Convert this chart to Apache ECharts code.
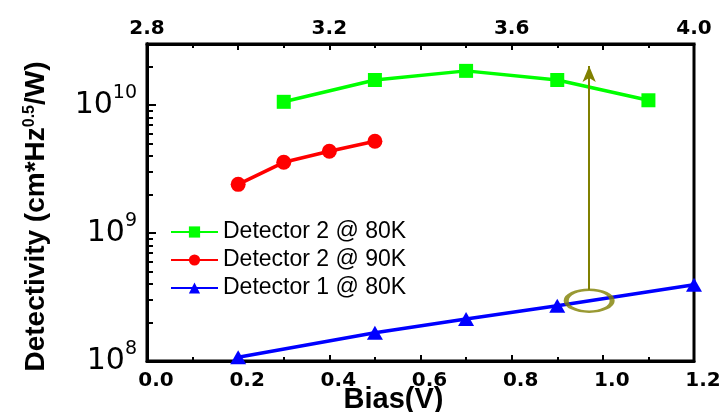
<!DOCTYPE html>
<html>
<head>
<meta charset="utf-8">
<script src="https://cdn.jsdelivr.net/npm/echarts@6/dist/echarts.min.js"></script>
<style>
html, body { margin: 0; padding: 0; background: #fff; }
#chart { width: 724px; height: 412px; }
</style>
</head>
<body>
<div id="chart"></div>
<script>
// 数据
var bias2At80 = [0.3, 0.5, 0.7, 0.9, 1.1];
var det2At80 = [1.06e10, 1.57e10, 1.85e10, 1.57e10, 1.09e10];
var bias2At90 = [0.2, 0.3, 0.4, 0.5];
var det2At90 = [2.4e9, 3.57e9, 4.36e9, 5.22e9];
var bias1At80 = [0.2, 0.5, 0.7, 0.9, 1.2];
var det1At80 = [1.07e8, 1.66e8, 2.13e8, 2.7e8, 3.95e8];
var seriesNames = ['Detector 2 @ 80K', 'Detector 2 @ 90K', 'Detector 1 @ 80K'];
// 箭头和圈 (标注)
var markBias = 0.97;
var ringDet = 2.96e8;
var arrowFrom = 3.6e8;
var arrowTo = 2.02e10;
// 坐标轴
var yMin = 1e8, yMax = 3e10;
var yMajorTicks = [1e8, 1e9, 1e10];
var yMinorTicks = [2e8, 3e8, 4e8, 5e8, 6e8, 7e8, 8e8, 9e8,
	2e9, 3e9, 4e9, 5e9, 6e9, 7e9, 8e9, 9e9, 2e10, 3e10];

function pairs(xs, ys) {
	var out = [];
	for (var i = 0; i < xs.length; i++) out.push([xs[i], ys[i]]);
	return out;
}

var tickFont = { color: '#000', fontFamily: 'DejaVu Sans', fontWeight: 'bold', fontSize: 20 };

var chart = echarts.init(document.getElementById('chart'));
chart.setOption({
	animation: false,
	grid: { left: 147, right: 30, top: 44, bottom: 51, outerBoundsMode: 'none', containLabel: false,
		show: true, borderColor: '#000', borderWidth: 3 },
	legend: {
		data: seriesNames,
		orient: 'vertical',
		left: 165,
		top: 215,
		itemWidth: 47,
		itemHeight: 14,
		itemGap: 4,
		textStyle: { color: '#000', fontFamily: 'Liberation Sans', fontSize: 23, lineHeight: 24 }
	},
	xAxis: [{
		type: 'value', min: 0, max: 1.2, interval: 0.2, position: 'bottom',
		name: 'Bias(V)', nameLocation: 'middle', nameGap: 24, nameMoveOverlap: false,
		nameTextStyle: { color: '#000', fontFamily: 'Liberation Sans', fontWeight: 'bold', fontSize: 29, padding: [0, 54, 0, 0] },
		axisLine: { lineStyle: { color: '#000', width: 3 } },
		axisTick: { inside: true, length: 6, lineStyle: { color: '#000', width: 2 } },
		minorTick: { show: true, splitNumber: 2, length: 4, lineStyle: { color: '#000', width: 2 } },
		splitLine: { show: false },
		axisLabel: Object.assign({ margin: 10, padding: [0, 0, 0, 18], formatter: function (v) { return v.toFixed(1); } }, tickFont)
	}, {
		type: 'value', min: 2.8, max: 4.0, interval: 0.2, position: 'top',
		axisLine: { lineStyle: { color: '#000', width: 3 } },
		axisTick: { inside: true, length: 6, lineStyle: { color: '#000', width: 2 } },
		minorTick: { show: true, splitNumber: 2, length: 4, lineStyle: { color: '#000', width: 2 } },
		splitLine: { show: false },
		axisLabel: Object.assign({
			margin: 5,
			formatter: function (v) { return Math.round(v * 10) % 4 === 0 ? v.toFixed(1) : ''; }
		}, tickFont)
	}],
	yAxis: [{
		type: 'log', min: yMin, max: yMax, logBase: 10, position: 'left',
		name: '{n|Detectivity (cm*Hz}{s|0.5}{n|/W)}', nameLocation: 'middle', nameGap: 97, nameMoveOverlap: false,
		nameTextStyle: {
			padding: [0, 28, 0, 0],
			rich: {
				n: { color: '#000', fontFamily: 'Liberation Sans', fontWeight: 'bold', fontSize: 28 },
				s: { color: '#000', fontFamily: 'Liberation Sans', fontWeight: 'bold', fontSize: 16, verticalAlign: 'top', padding: [0, 0, 12, 0] }
			}
		},
		axisLine: { lineStyle: { color: '#000', width: 3 } },
		axisTick: { show: false },
		splitLine: { show: false },
		axisLabel: {
			margin: 10,
			padding: [0, 0, 6, 0],
			formatter: function (v) {
				var e = Math.log10(v);
				if (Math.abs(e - Math.round(e)) > 1e-6) return '';
				return '{a|10}{b|' + Math.round(e) + '}';
			},
			rich: {
				a: { color: '#000', fontFamily: 'DejaVu Sans', fontSize: 30, verticalAlign: 'bottom', padding: [6, 0, 0, 0] },
				b: { color: '#000', fontFamily: 'DejaVu Sans', fontSize: 19, verticalAlign: 'top' }
			}
		}
	}, {
		// 主刻度 (按 log10 值画在线性轴上)
		type: 'value', min: Math.log10(yMin), max: Math.log10(yMax), position: 'left',
		axisLine: { show: true, lineStyle: { color: '#000', width: 3 } },
		axisTick: { show: true, inside: true, length: 9, customValues: yMajorTicks.map(Math.log10), lineStyle: { color: '#000', width: 2 } },
		axisLabel: { show: false },
		splitLine: { show: false }
	}, {
		// 次刻度
		type: 'value', min: Math.log10(yMin), max: Math.log10(yMax), position: 'left',
		axisLine: { show: true, lineStyle: { color: '#000', width: 3 } },
		axisTick: { show: true, inside: true, length: 6, customValues: yMinorTicks.map(Math.log10), lineStyle: { color: '#000', width: 2 } },
		axisLabel: { show: false },
		splitLine: { show: false }
	}],
	series: [{
		name: seriesNames[0], type: 'line', xAxisIndex: 0, yAxisIndex: 0,
		data: pairs(bias2At80, det2At80),
		symbol: 'rect', symbolSize: 14,
		lineStyle: { color: '#00ff00', width: 3.5 },
		itemStyle: { color: '#00ff00' }
	}, {
		name: seriesNames[1], type: 'line', xAxisIndex: 0, yAxisIndex: 0,
		data: pairs(bias2At90, det2At90),
		symbol: 'circle', symbolSize: 15,
		lineStyle: { color: '#ff0000', width: 3.5 },
		itemStyle: { color: '#ff0000' }
	}, {
		name: seriesNames[2], type: 'line', xAxisIndex: 0, yAxisIndex: 0,
		data: pairs(bias1At80, det1At80),
		symbol: 'triangle', symbolSize: [16, 14],
		lineStyle: { color: '#0000ff', width: 3.5 },
		itemStyle: { color: '#0000ff' }
	}, {
		name: 'ring', type: 'scatter', xAxisIndex: 0, yAxisIndex: 0,
		data: [[markBias, ringDet]],
		symbol: 'circle', symbolSize: [46, 22], z: 5,
		itemStyle: { color: 'rgba(0,0,0,0)', borderColor: '#808000', borderWidth: 3.5 },
		markLine: {
			silent: true, symbol: ['none', 'arrow'], symbolSize: [10, 16],
			label: { show: false },
			lineStyle: { color: '#808000', width: 2, type: 'solid' },
			data: [[{ coord: [markBias, arrowFrom] }, { coord: [markBias, arrowTo] }]]
		}
	}]
});
</script>
</body>
</html>
